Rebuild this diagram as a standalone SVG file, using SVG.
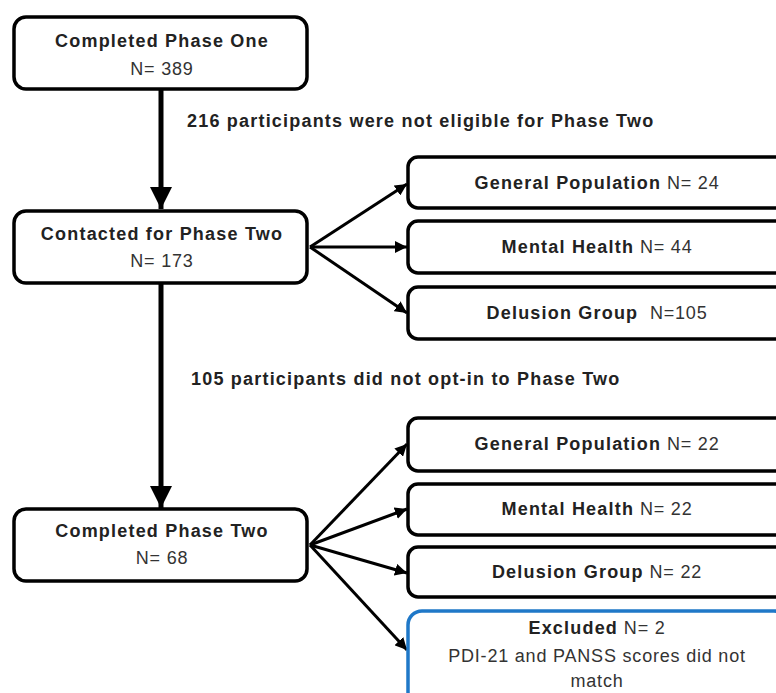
<svg xmlns="http://www.w3.org/2000/svg" width="776" height="693" viewBox="0 0 776 693">
<defs>
<style>
.box{fill:#fff;stroke:#000;stroke-width:3.5}
.blue{fill:#fff;stroke:#1f78c8;stroke-width:3.5}
.b{font-family:"Liberation Sans",Arial,sans-serif;font-weight:bold;font-size:18px;letter-spacing:1.2px;fill:#222}
.r{font-family:"Liberation Sans",Arial,sans-serif;font-size:18px;letter-spacing:0.8px;fill:#333}
.t{text-anchor:middle}
.main{stroke:#000;stroke-width:5;fill:none}
.br{stroke:#000;stroke-width:3;fill:none}
</style>
<marker id="big" viewBox="0 0 10 10" refX="10" refY="5" markerWidth="4.4" markerHeight="4.4" markerUnits="strokeWidth" orient="auto">
<path d="M0,0 L10,5 L0,10 Z" fill="#000"/>
</marker>
<marker id="sm" viewBox="0 0 10 10" refX="10" refY="5" markerWidth="4" markerHeight="4" markerUnits="strokeWidth" orient="auto">
<path d="M0,0 L10,5 L0,10 Z" fill="#000"/>
</marker>
</defs>
<rect width="776" height="693" fill="#fff"/>
<g id="connectors">
<line class="main" x1="161" y1="89" x2="161" y2="209" marker-end="url(#big)"/>
<line class="main" x1="161" y1="283" x2="161" y2="508" marker-end="url(#big)"/>
<line class="br" x1="310" y1="247" x2="407" y2="184" marker-end="url(#sm)"/>
<line class="br" x1="310" y1="247" x2="407" y2="247" marker-end="url(#sm)"/>
<line class="br" x1="310" y1="247" x2="407" y2="313" marker-end="url(#sm)"/>
<line class="br" x1="310" y1="545" x2="407" y2="444" marker-end="url(#sm)"/>
<line class="br" x1="310" y1="545" x2="407" y2="509" marker-end="url(#sm)"/>
<line class="br" x1="310" y1="545" x2="407" y2="573" marker-end="url(#sm)"/>
<line class="br" x1="310" y1="545" x2="407" y2="650" marker-end="url(#sm)"/>
</g>
<g id="n-phase1">
<rect class="box" x="14" y="17" width="293" height="72" rx="12"/>
<text class="b t" x="162" y="47">Completed Phase One</text>
<text class="r t" x="162" y="75">N= 389</text>
</g>
<g id="lbl-216">
<text class="b" x="187" y="127">216 participants were not eligible for Phase Two</text>
</g>
<g id="n-contacted">
<rect class="box" x="14" y="211" width="293" height="72" rx="12"/>
<text class="b t" x="162" y="240">Contacted for Phase Two</text>
<text class="r t" x="162" y="267">N= 173</text>
</g>
<g id="n-gp1">
<rect class="box" x="408" y="157" width="380" height="51" rx="10"/>
<text class="t" x="597" y="189"><tspan class="b">General Population</tspan><tspan class="r"> N= 24</tspan></text>
</g>
<g id="n-mh1">
<rect class="box" x="408" y="221" width="380" height="52" rx="10"/>
<text class="t" x="597" y="253"><tspan class="b">Mental Health</tspan><tspan class="r"> N= 44</tspan></text>
</g>
<g id="n-dg1">
<rect class="box" x="408" y="287" width="380" height="52" rx="10"/>
<text class="t" x="597" y="319" xml:space="preserve"><tspan class="b">Delusion Group</tspan><tspan class="r">  N=105</tspan></text>
</g>
<g id="lbl-105">
<text class="b" x="191" y="385">105 participants did not opt-in to Phase Two</text>
</g>
<g id="n-phase2">
<rect class="box" x="14" y="509" width="293" height="72" rx="12"/>
<text class="b t" x="162" y="537">Completed Phase Two</text>
<text class="r t" x="162" y="564">N= 68</text>
</g>
<g id="n-gp2">
<rect class="box" x="408" y="418" width="380" height="53" rx="10"/>
<text class="t" x="597" y="450"><tspan class="b">General Population</tspan><tspan class="r"> N= 22</tspan></text>
</g>
<g id="n-mh2">
<rect class="box" x="408" y="484" width="380" height="51" rx="10"/>
<text class="t" x="597" y="515"><tspan class="b">Mental Health</tspan><tspan class="r"> N= 22</tspan></text>
</g>
<g id="n-dg2">
<rect class="box" x="408" y="547" width="380" height="50" rx="10"/>
<text class="t" x="597" y="578"><tspan class="b">Delusion Group</tspan><tspan class="r"> N= 22</tspan></text>
</g>
<g id="n-excl">
<rect class="blue" x="408" y="611" width="380" height="100" rx="14"/>
<text class="t" x="597" y="634"><tspan class="b">Excluded</tspan><tspan class="r"> N= 2</tspan></text>
<text class="r t" x="597" y="662">PDI-21 and PANSS scores did not</text>
<text class="r t" x="597" y="687">match</text>
</g>
</svg>
